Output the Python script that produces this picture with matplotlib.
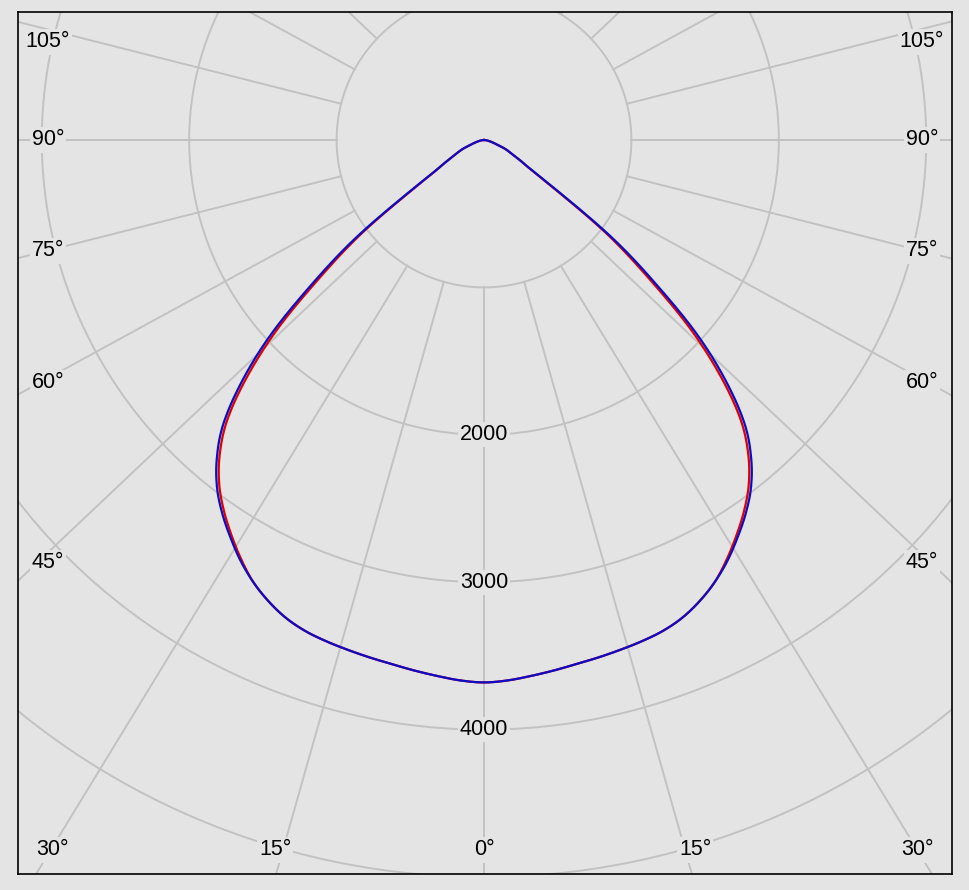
import numpy as np
import matplotlib.pyplot as plt

# photometric polar diagram, intensity in cd
gamma = [0, 2.5, 5, 7.5, 10, 12.5, 15, 17.5, 20, 22.5, 25, 27.5, 30, 32.5, 35, 37.5,
         40, 42.5, 45, 47.5, 50, 52.5, 55, 57.5, 60, 62.5, 65, 67.5, 70, 72.5, 75,
         77.5, 80, 82.5, 85, 87.5, 90]
c90_cd = [3680, 3670, 3650, 3630, 3610, 3595, 3580, 3565, 3545, 3510, 3455, 3385,
          3300, 3200, 3095, 2975, 2820, 2620, 2330, 1975, 1530, 1120, 650, 400, 300,
          230, 190, 150, 100, 75, 55, 40, 28, 18, 10, 5, 0]
c0_cd = [3680, 3670, 3650, 3630, 3610, 3595, 3580, 3565, 3545, 3510, 3455, 3385,
         3290, 3185, 3075, 2950, 2790, 2580, 2275, 1905, 1460, 1070, 620, 390, 300,
         230, 190, 150, 100, 75, 55, 40, 28, 18, 10, 5, 0]

rings = [1000, 2000, 3000, 4000, 5000]
ring_labels = ['2000', '3000', '4000']
spoke_angles = [0, 15, 30, 45, 60, 75, 90, 105, 120, 135, 150, 165, 180]

side_labels = ['105°', '90°', '75°', '60°', '45°']
side_label_y = [42, 140, 251, 383, 563]          # pixel rows
bottom_labels = ['30°', '15°', '0°', '15°', '30°']
bottom_label_x = [52, 275, 484, 695, 917]        # pixel columns

bg = '#e4e4e4'
grid_c = '#c2c2c2'
W, H = 969, 890
cx, cy, scale = 484, 140, 0.1474  # pixel centre, px per cd


def smooth(ang, val, n=12):
    # cubic hermite (catmull-rom) through the readings, only for drawing
    ang = np.asarray(ang, float)
    val = np.asarray(val, float)
    m = np.gradient(val)
    xs, ys = [], []
    for i in range(len(val) - 1):
        s = np.linspace(0, 1, n, endpoint=False)
        h00 = 2 * s**3 - 3 * s**2 + 1
        h10 = s**3 - 2 * s**2 + s
        h01 = -2 * s**3 + 3 * s**2
        h11 = s**3 - s**2
        ys.append(h00 * val[i] + h10 * m[i] + h01 * val[i + 1] + h11 * m[i + 1])
        xs.append(ang[i] + s * (ang[i + 1] - ang[i]))
    xs.append([ang[-1]])
    ys.append([val[-1]])
    return np.concatenate(xs), np.clip(np.concatenate(ys), 0, None)


fig = plt.figure(figsize=(W / 100, H / 100), dpi=100, facecolor=bg)
ax = fig.add_axes([18 / W, 1 - 874 / H, (952 - 18) / W, (874 - 12) / H])
ax.set_facecolor(bg)
ax.set_xlim((18 - cx) / scale, (952 - cx) / scale)
ax.set_ylim(-(874 - cy) / scale, (cy - 12) / scale)
ax.set_xticks([])
ax.set_yticks([])
for s in ax.spines.values():
    s.set_color('black')
    s.set_linewidth(1.2)

# rings
t = np.linspace(0, 2 * np.pi, 721)
for r in rings:
    ax.plot(r * np.sin(t), r * np.cos(t), color=grid_c, lw=1.4, zorder=1)

# spokes (drawn slightly stretched horizontally, as in the source tool)
k = 1.057
for a in spoke_angles:
    ar = np.radians(a)
    for side in (-1, 1):
        dx, dy = side * k * np.sin(ar), -np.cos(ar)
        n = np.hypot(dx, dy)
        dx, dy = dx / n, dy / n
        ax.plot([1000 * dx, 9000 * dx], [1000 * dy, 9000 * dy],
                color=grid_c, lw=1.4, zorder=1)

# curves, mirrored to both halves
g_arr = np.array(gamma, float)
for vals, col in [(c0_cd, '#e00000'), (c90_cd, '#0c0cc8')]:
    v = np.array(vals, float)
    ga = np.concatenate([-g_arr[::-1], g_arr[1:]])
    va = np.concatenate([v[::-1], v[1:]])
    gs, vs = smooth(ga, va)
    gr = np.radians(gs)
    ax.plot(vs * np.sin(gr), -vs * np.cos(gr), color=col, lw=1.6, zorder=3)

font = dict(family=['Liberation Sans', 'DejaVu Sans'], fontsize=15.5,
            ha='center', va='center', zorder=4)
box = dict(facecolor=bg, edgecolor='none', pad=1.5)

for lab in ring_labels:
    ax.text(0, -float(lab), lab, bbox=box, **font)

for lab, py in zip(side_labels, side_label_y):
    y = -(py - cy) / scale
    ax.text((48 - cx) / scale, y, lab, bbox=box, **font)
    ax.text((922 - cx) / scale, y, lab, bbox=box, **font)

for lab, px in zip(bottom_labels, bottom_label_x):
    ax.text((px - cx) / scale, -(850 - cy) / scale, lab, bbox=box, **font)

fig.savefig('out.png', dpi=100, facecolor=bg)
